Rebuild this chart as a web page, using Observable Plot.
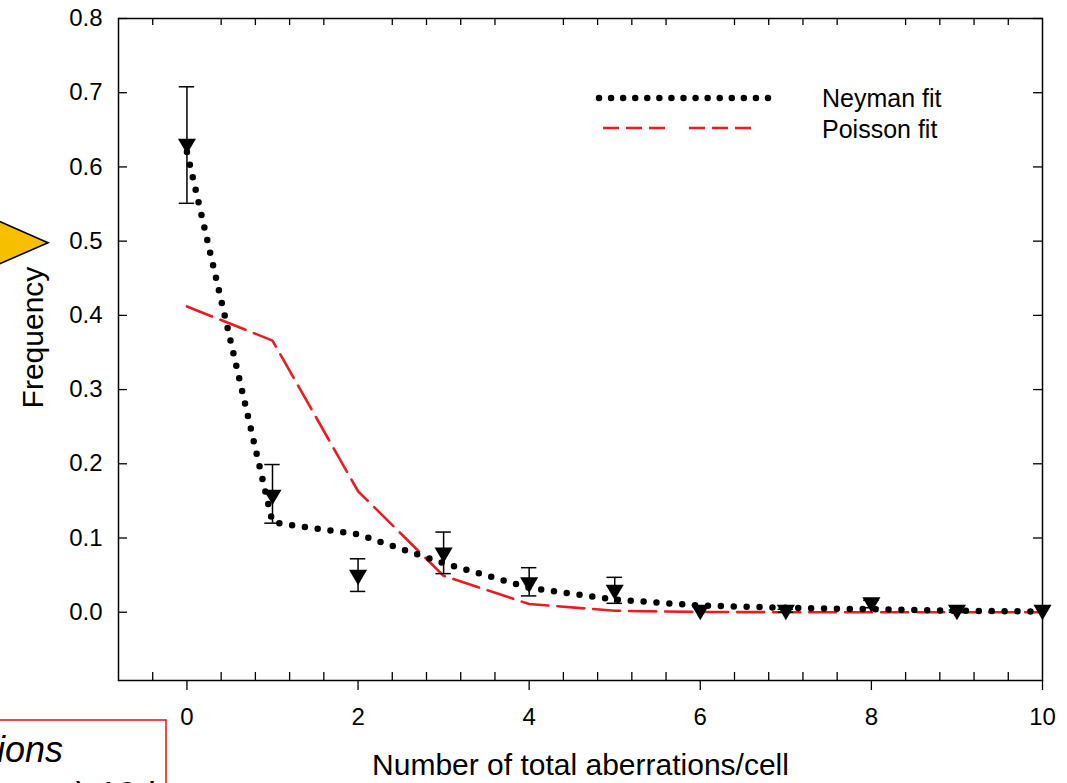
<!DOCTYPE html>
<html>
<head>
<meta charset="utf-8">
<script src="https://cdn.jsdelivr.net/npm/d3@7"></script>
<script src="https://cdn.jsdelivr.net/npm/@observablehq/plot@0.6"></script>
<style>
  html, body { margin: 0; padding: 0; background: #fff; }
  #wrap { position: relative; width: 1067px; height: 783px; overflow: hidden; }
  #overlay { position: absolute; left: 0; top: 0; pointer-events: none; }
</style>
</head>
<body>
<div id="wrap"></div>
<script>
// ---- data ----
const counts     = [0, 1, 2, 3, 4, 5, 6, 7, 8, 9, 10];
const observed   = [0.628, 0.155, 0.047, 0.077, 0.037, 0.027, 0.0, 0.0, 0.010, 0.0, 0.0];
const errLow     = [0.551, 0.120, 0.028, 0.052, 0.022, 0.012, null, 0.0, 0.006, 0.0, null];
const errHigh    = [0.708, 0.199, 0.072, 0.108, 0.060, 0.047, null, 0.004, 0.016, 0.003, null];
const neymanFit  = [0.620, 0.121, 0.105, 0.066, 0.033, 0.017, 0.009, 0.006, 0.004, 0.002, 0.001];
const poissonFit = [0.412, 0.366, 0.163, 0.049, 0.011, 0.002, 0.0003, 0.0, 0.0, 0.0, 0.0];
const xMajorTicks = [0, 2, 4, 6, 8, 10];
const xMinorTicks = [-0.4, 0.4, 0.8, 1.2, 1.6, 2.4, 2.8, 3.2, 3.6, 4.4, 4.8, 5.2, 5.6, 6.4, 6.8, 7.2, 7.6, 8.4, 8.8, 9.2, 9.6];
const yTicks = [0, 0.1, 0.2, 0.3, 0.4, 0.5, 0.6, 0.7, 0.8];
const xLabel = "Number of total aberrations/cell";
const yLabel = "Frequency";
const seriesNames = ["Neyman fit", "Poisson fit"];

// ---- tables built from the arrays ----
const pts = counts.map((x, i) => ({x, y: observed[i], lo: errLow[i], hi: errHigh[i]}));
const errs = pts.filter(d => d.hi != null);
const neyman = counts.map((x, i) => ({x, y: neymanFit[i]}));
const poisson = counts.map((x, i) => ({x, y: poissonFit[i]}));

const FONT = "'Liberation Sans', Arial, Helvetica, sans-serif";
const RED = "#ea1c22";
const W = 1067, H = 783;
const mL = 118, mR = 25, mT = 18, mB = 103;
const pw = W - mL - mR, ph = H - mT - mB;
const capHalf = 0.09;

const triangleDown = {
  draw(ctx, size) {
    const r = Math.sqrt(size / Math.PI);
    ctx.moveTo(-1.35 * r, -1.12 * r);
    ctx.lineTo(1.35 * r, -1.12 * r);
    ctx.lineTo(0, 1.18 * r);
    ctx.closePath();
  }
};

const chart = Plot.plot({
  width: W, height: H,
  marginLeft: mL, marginRight: mR, marginTop: mT, marginBottom: mB,
  x: {domain: [-0.8, 10]},
  y: {domain: [-0.092, 0.8]},
  style: {fontFamily: FONT, fontSize: "24px", color: "black", background: "white", overflow: "visible"},
  marks: [
    // ticks
    Plot.ruleY(yTicks, {y: d => d, insetRight: pw - 9, stroke: "black", strokeWidth: 1.3}),
    Plot.ruleY(yTicks, {y: d => d, insetLeft: pw - 9, stroke: "black", strokeWidth: 1.3}),
    Plot.ruleX(xMinorTicks, {x: d => d, insetTop: ph - 8, stroke: "black", strokeWidth: 1.3}),
    Plot.ruleX(xMinorTicks, {x: d => d, insetBottom: ph - 7, stroke: "black", strokeWidth: 1.3}),
    Plot.axisX({ticks: xMajorTicks, tickSize: 10, tickPadding: 17, fontSize: 24, label: null, strokeWidth: 1.3}),
    Plot.axisY({ticks: yTicks, tickSize: 0, tickPadding: 16, tickFormat: d3.format(".1f"), fontSize: 24, label: null}),
    // fits
    Plot.line(poisson, {x: "x", y: "y", stroke: RED, strokeWidth: 2.6, strokeDasharray: "27,9"}),
    Plot.line(neyman, {x: "x", y: "y", stroke: "black", strokeWidth: 6.5, strokeDasharray: "0,12.9", strokeLinecap: "round"}),
    // error bars
    Plot.ruleX(errs, {x: "x", y1: "lo", y2: "hi", stroke: "black", strokeWidth: 1.5}),
    Plot.ruleY(errs, {y: "hi", x1: d => d.x - capHalf, x2: d => d.x + capHalf, stroke: "black", strokeWidth: 1.5}),
    Plot.ruleY(errs, {y: "lo", x1: d => d.x - capHalf, x2: d => d.x + capHalf, stroke: "black", strokeWidth: 1.5}),
    // observed
    Plot.dot(pts, {x: "x", y: "y", symbol: triangleDown, r: 6.7, fill: "black", stroke: "none"}),
    // frame
    Plot.frame({stroke: "black", strokeWidth: 1.5}),
    // axis titles
    Plot.text([xLabel], {frameAnchor: "bottom", textAnchor: "middle", lineAnchor: "middle", dy: 85, fontSize: 30, fill: "black"}),
    Plot.text([yLabel], {frameAnchor: "left", textAnchor: "middle", lineAnchor: "middle", rotate: -90, dx: -85, dy: -12, fontSize: 30, fill: "black"})
  ]
});

const wrap = document.getElementById("wrap");
wrap.appendChild(chart);

// ---- overlay: legend and annotations ----
const ov = d3.select(wrap).append("svg")
  .attr("id", "overlay").attr("width", W).attr("height", H)
  .style("font-family", FONT);

// legend
ov.append("line").attr("x1", 599).attr("x2", 768).attr("y1", 98).attr("y2", 98)
  .attr("stroke", "black").attr("stroke-width", 6.5).attr("stroke-linecap", "round")
  .attr("stroke-dasharray", "0,12.07");
ov.append("line").attr("x1", 603).attr("x2", 754).attr("y1", 128).attr("y2", 128)
  .attr("stroke", RED).attr("stroke-width", 2.6)
  .attr("stroke-dasharray", "16,7,16,7,16,24");
ov.append("text").attr("x", 822).attr("y", 98).attr("dominant-baseline", "central")
  .attr("font-size", 25).text(seriesNames[0]);
ov.append("text").attr("x", 822).attr("y", 129).attr("dominant-baseline", "central")
  .attr("font-size", 25).text(seriesNames[1]);

// yellow arrow on the left edge
ov.append("polygon")
  .attr("points", "-30,208.6 48,242.7 -30,276.8")
  .attr("fill", "#f6c000").attr("stroke", "black").attr("stroke-width", 1.6).attr("stroke-linejoin", "miter");

// red boxed note at bottom-left (cropped)
ov.append("rect").attr("x", -20).attr("y", 720).attr("width", 186).attr("height", 120)
  .attr("fill", "white").attr("stroke", RED).attr("stroke-width", 1.6);
ov.append("text").attr("x", 63).attr("y", 762).attr("text-anchor", "end")
  .attr("font-size", 36).attr("font-style", "italic").text("aberrations");
ov.append("text").attr("x", 165).attr("y", 808).attr("text-anchor", "end")
  .attr("font-size", 36).attr("font-style", "italic").text("²) 12 h");
</script>
</body>
</html>
